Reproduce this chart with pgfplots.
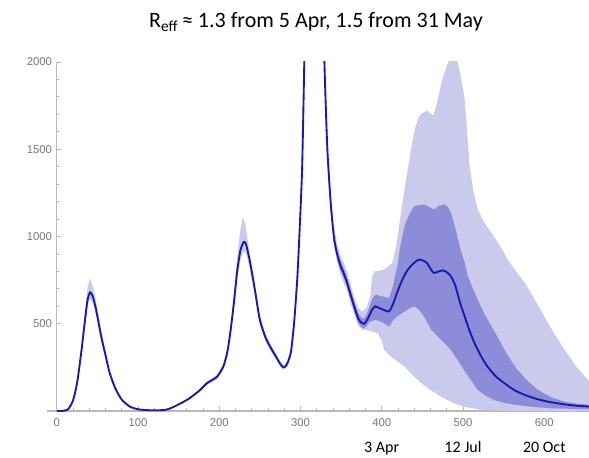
\documentclass[border=0pt]{standalone}
\usepackage{fontspec}
\setmainfont{Carlito}
\newfontfamily\tickfont{Liberation Sans}
\usepackage{pgfplots}
\pgfplotsset{compat=1.18}
\definecolor{medline}{RGB}{25,25,170}
\definecolor{darkband}{RGB}{140,140,216}
\definecolor{lightband}{RGB}{202,202,236}
\definecolor{axgray}{RGB}{185,185,185}
\definecolor{tickgray}{RGB}{120,120,120}

\begin{document}
\begin{tikzpicture}
\path[use as bounding box] (-35.25pt,-34.5pt) rectangle (406.5pt,308.25pt);
\begin{axis}[
  at={(0,0)}, anchor=south west,
  scale only axis, width=406.5pt, height=261.75pt,
  xmin=-12, xmax=655, ymin=0, ymax=2000,
  axis x line*=bottom, axis y line*=middle,
  axis line style={axgray, line width=0.8pt},
  xtick={0,100,...,600}, ytick={500,1000,1500,2000},
  minor x tick num=4, minor y tick num=4,
  tick align=inside,
  major tick length=3.5pt, minor tick length=2pt,
  every tick/.style={axgray, line width=0.6pt},
  /pgf/number format/assume math mode=true,
  /pgf/number format/set thousands separator={},
  tick label style={font=\tickfont\fontsize{8.5}{10}\selectfont, text=tickgray},
  xticklabel style={yshift=-2pt},
  clip=true,
]
% 95% band (upper edge forward, lower edge reversed)
\addplot[fill=lightband, draw=none] coordinates {
(0,0)(14,12)(20,66)(25,176)(30,363)(35,585)(38,710)(41,762)(44,720)(48,640)(55,455)(60,345)(65,238)(72,140)(80,70)(90,28)(100,11)(111,6)(125,5)(135,9)(143,24)(155,54)(164,80)(175,122)(185,170)(197,208)(205,272)(210,362)(214,495)(218,670)(222,880)(226,1040)(229,1110)(232,1070)(236,950)(240,820)(244,720)(250,550)(257,445)(263,385)(270,325)(275,285)(279,265)(283,280)(288,350)(292,525)(296,800)(299,1100)(302,1450)(305,2200)(310,2600)(316,2600)(322,2600)(327,2500)(330,2000)(333,1580)(337,1260)(341,1060)(345,960)(349,890)(353,850)(357,800)(362,720)(366,650)(371,590)(376,570)(381,590)(386,660)(388,770)(391,800)(397,805)(403,810)(408,830)(413,849)(418,950)(423,1117)(429,1300)(436,1500)(441,1620)(446,1691)(451,1710)(456,1720)(460,1705)(463,1691)(466,1730)(469,1787)(473,1870)(477,1940)(481,1990)(485,2020)(489,2030)(493,2010)(497,1920)(502,1787)(505,1600)(508,1404)(513,1250)(518,1155)(526,1080)(535,1022)(545,950)(555,868)(565,800)(576,735)(588,640)(600,542)(612,445)(625,350)(640,250)(657,160)
(657,0)(560,1)(540,3)(522,8)(512,15)(501,25)(490,42)(481,63)(470,90)(460,120)(452,148)(444,178)(436,215)(428,255)(419,285)(411,312)(403,350)(400,400)(395,446)(388,455)(382,465)(376,465)(371,490)(366,555)(362,610)(357,690)(353,735)(349,785)(345,850)(341,950)(337,1140)(333,1430)(330,1820)(327,2300)(322,2600)(316,2600)(310,2600)(305,2050)(302,1370)(299,1020)(296,730)(292,480)(288,318)(283,252)(279,238)(275,255)(270,295)(263,345)(257,400)(250,495)(244,655)(238,805)(233,905)(230,915)(226,870)(222,750)(218,585)(214,440)(210,320)(205,240)(197,182)(185,150)(175,108)(164,70)(155,46)(143,20)(135,7)(125,3)(111,4)(100,8)(90,22)(80,60)(72,120)(65,205)(60,300)(55,395)(48,560)(44,625)(41,640)(38,605)(35,500)(30,310)(25,150)(20,55)(14,8)(0,0)
};
% 50% band
\addplot[fill=darkband, draw=none] coordinates {
(340,1020)(345,925)(349,865)(353,820)(357,770)(362,690)(366,630)(371,560)(375,535)(378,530)(381,548)(385,600)(389,650)(393,667)(397,660)(403,655)(409,648)(414,720)(419,829)(423,950)(428,1059)(434,1130)(440,1174)(446,1180)(452,1184)(458,1170)(464,1155)(470,1175)(477,1184)(481,1170)(485,1136)(488,1090)(491,1040)(494,980)(497,925)(502,850)(506,772)(512,700)(518,638)(526,560)(535,484)(543,420)(551,350)(559,290)(567,236)(580,170)(592,121)(608,80)(625,53)(640,42)(657,35)
(657,10)(610,15)(590,22)(567,34)(552,45)(538,63)(528,88)(518,121)(510,175)(501,236)(493,295)(485,350)(479,380)(473,408)(467,437)(461,465)(457,500)(452,540)(446,580)(440,600)(435,590)(428,570)(419,542)(414,520)(409,484)(400,510)(392,523)(385,510)(381,485)(378,475)(375,480)(371,505)(366,575)(362,635)(357,715)(353,765)(349,810)(345,880)(340,980)
};
\addplot[medline, line width=1.4pt, smooth, tension=0.4] coordinates {
(0,0)(8,1)(14,10)(20,60)(25,160)(30,330)(35,530)(38,640)(41,680)(44,660)(48,590)(55,420)(60,320)(65,220)(72,130)(80,65)(90,25)(100,10)(111,5)(125,4)(135,8)(143,22)(155,50)(164,75)(175,115)(185,160)(197,195)(205,255)(210,340)(214,465)(218,620)(222,800)(226,920)(230,968)(233,955)(238,850)(244,690)(250,520)(257,420)(263,365)(270,310)(275,270)(279,250)(283,265)(288,333)(292,500)(296,760)(299,1050)(302,1400)(305,2100)(310,3500)(316,4300)(322,3600)(327,2400)(330,1900)(333,1500)(337,1200)(341,1000)(345,900)(349,835)(353,790)(357,740)(362,660)(366,600)(371,530)(375,505)(378,500)(381,515)(384,540)(388,580)(392,600)(397,590)(403,578)(409,571)(414,615)(419,680)(425,750)(432,810)(440,850)(446,868)(452,860)(456,845)(460,815)(464,791)(469,798)(475,806)(480,795)(485,772)(490,725)(493,677)(497,610)(502,542)(508,460)(514,390)(522,315)(530,255)(540,200)(551,159)(563,120)(576,92)(590,70)(605,53)(625,38)(640,30)(657,25)
};
\end{axis}
\node[anchor=base, font=\fontsize{16.5}{19}\selectfont] at (201.75pt,287.25pt) {R\textsubscript{eff}\,≈ 1.3 from 5 Apr, 1.5 from 31 May};
\node[anchor=base, font=\fontsize{12}{14}\selectfont] at (251pt,-30.75pt) {3 Apr};
\node[anchor=base, font=\fontsize{12}{14}\selectfont] at (312pt,-30.75pt) {12 Jul};
\node[anchor=base, font=\fontsize{12}{14}\selectfont] at (373pt,-30.75pt) {20 Oct};
\end{tikzpicture}
\end{document}
